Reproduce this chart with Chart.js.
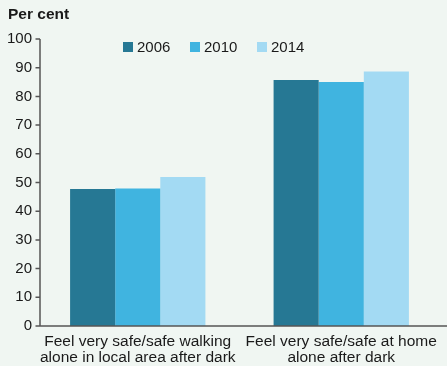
<!DOCTYPE html>
<html>
<head>
<meta charset="utf-8">
<script src="https://cdn.jsdelivr.net/npm/chart.js@4/dist/chart.umd.min.js"></script>
<style>
  html, body { margin: 0; padding: 0; background: #f0f6f2; }
  #wrap { width: 447px; height: 366px; position: relative; }
</style>
</head>
<body>
<div id="wrap"><canvas id="safetyChart"></canvas></div>
<script>
const categories = [
    ['Feel very safe/safe walking', 'alone in local area after dark'],
    ['Feel very safe/safe at home', 'alone after dark']
];
const years = ['2006', '2010', '2014'];
const values2006 = [47.7, 85.7];
const values2010 = [47.9, 85.0];
const values2014 = [51.9, 88.7];
const yTicks = [0, 10, 20, 30, 40, 50, 60, 70, 80, 90, 100];

const colours = ['#267894', '#40b4e0', '#a3daf3'];
const font = 'Liberation Sans, Arial, sans-serif';
const textColour = '#1a1a1a';
const axisColour = '#555';
const axisX = 40;

// axis lines, title and legend drawn on top of the canvas
const extras = {
    id: 'extras',
    afterDraw(chart) {
        const ctx = chart.ctx;
        const y = chart.scales.y;
        const area = chart.chartArea;
        ctx.save();
        ctx.strokeStyle = axisColour;
        ctx.lineWidth = 1.5;
        ctx.beginPath();
        ctx.moveTo(axisX, y.getPixelForValue(100));
        ctx.lineTo(axisX, area.bottom);
        ctx.lineTo(chart.width, area.bottom);
        yTicks.forEach(v => {
            const py = y.getPixelForValue(v);
            ctx.moveTo(axisX - 4.5, py);
            ctx.lineTo(axisX, py);
        });
        ctx.stroke();

        ctx.fillStyle = textColour;
        ctx.font = 'bold 15.5px ' + font;
        ctx.textBaseline = 'middle';
        ctx.textAlign = 'left';
        ctx.fillText('Per cent', 8, 15);

        ctx.font = '15px ' + font;
        let x = 123;
        chart.data.datasets.forEach(ds => {
            ctx.fillStyle = ds.backgroundColor;
            ctx.fillRect(x, 42, 10, 10);
            ctx.fillStyle = textColour;
            ctx.fillText(ds.label, x + 14, 47.5);
            x += 67;
        });
        ctx.restore();
    }
};

Chart.defaults.font.family = font;
Chart.defaults.font.size = 15;
Chart.defaults.color = textColour;

new Chart(document.getElementById('safetyChart'), {
    type: 'bar',
    data: {
        labels: categories,
        datasets: [values2006, values2010, values2014].map((vals, i) => ({
            label: years[i],
            data: vals,
            backgroundColor: colours[i],
            borderWidth: 0,
            categoryPercentage: 0.665,
            barPercentage: 1
        }))
    },
    options: {
        responsive: true,
        maintainAspectRatio: false,
        animation: false,
        layout: { padding: { top: 39, right: 4, left: 0, bottom: 0 } },
        plugins: { legend: { display: false }, tooltip: { enabled: false } },
        scales: {
            x: {
                grid: { display: false, tickLength: 0 },
                border: { display: false },
                ticks: { maxRotation: 0, autoSkip: false, padding: 8, font: { size: 15.5, lineHeight: 1.0 } },
                afterFit: scale => { scale.height = 40; }
            },
            y: {
                min: 0,
                max: 100,
                afterBuildTicks: scale => { scale.ticks = yTicks.map(v => ({ value: v })); },
                grid: { display: false, tickLength: 0 },
                border: { display: false },
                ticks: { padding: 4, font: { size: 15 } },
                afterFit: scale => { scale.width = 36; }
            }
        }
    },
    plugins: [extras]
});
</script>
</body>
</html>
